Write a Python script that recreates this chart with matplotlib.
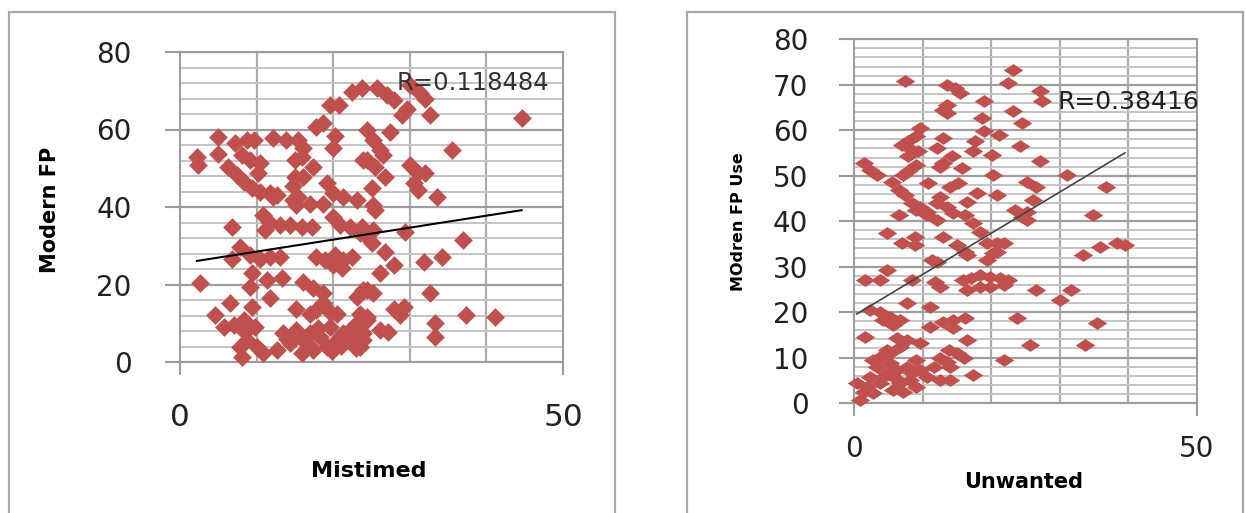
import matplotlib
matplotlib.use("Agg")
import matplotlib.pyplot as plt
from matplotlib.patches import Rectangle
import numpy as np

# ---- left chart: Mistimed vs Modern FP
mist_x = [2.2, 2.4, 5.0, 5.0, 7.2, 8.7, 9.6, 8.05, 9.1,
          6.3, 7.4, 8.3, 9.4, 10.4, 11.7, 12.6, 10.2, 10.4,
          12.2, 13.9, 15.4, 16.1, 15.9, 15.0, 17.4, 15.0, 16.1,
          17.8, 18.7, 19.6, 20.7, 22.4, 23.7, 20.2, 20.0, 23.9,
          19.2, 20.0, 21.3, 14.8, 15.4, 17.0, 18.7, 23.1, 12.2, 14.8,
          10.9, 11.7, 13.1, 14.4, 15.9, 17.2, 11.1, 15.2,
          20.0, 20.9, 22.2, 23.7, 6.75,
          7.8, 9.1, 10.4, 11.7, 13.1, 6.75,
          17.8, 18.9, 20.2, 21.3, 22.4, 20.0, 21.1,
          2.6, 9.4, 9.1, 11.3, 13.3, 11.7, 9.4,
          16.1, 17.4, 18.7, 6.5, 4.6, 5.7, 7.0,
          15.2, 17.0, 17.8, 18.7, 19.6, 20.5, 23.1, 24.4,
          8.3, 9.8, 8.5, 8.7, 7.8, 8.05, 10.0, 10.9,
          13.5, 15.2, 16.1, 17.0, 18.3, 19.2, 20.5, 21.3, 22.6, 23.9,
          14.4, 15.9, 12.6, 17.4, 19.6, 23.1, 24.4,
          14.0, 16.8, 18.0, 19.8, 21.0, 22.0, 23.0,
          25.7, 27.0, 27.9, 30.0, 31.3, 32.0, 29.6, 29.0, 32.6,
          44.6, 27.4, 24.4, 25.2, 26.1, 26.5, 24.4, 25.5, 26.8, 25.0,
          35.5, 30.0, 31.1, 32.0, 30.5, 31.1, 33.5, 25.2,
          25.5, 23.5, 24.4, 25.2, 25.0, 29.4, 37.0,
          26.8, 27.9, 26.1, 31.8, 34.2, 23.9, 25.2, 32.6,
          27.9, 29.2, 28.7, 23.5, 24.4, 26.1, 27.2, 23.9, 23.5,
          33.3, 33.3, 37.4, 41.1]
mist_y = [53.0, 50.8, 58.1, 53.8, 56.4, 57.3, 57.3, 53.4, 52.1,
          50.4, 48.3, 46.5, 44.8, 43.9, 43.5, 43.1, 48.7, 51.3,
          57.7, 57.3, 57.3, 55.1, 53.0, 52.1, 50.4, 47.8, 47.8,
          60.7, 61.6, 66.3, 66.3, 69.8, 70.6, 58.2, 55.1, 52.1,
          46.1, 43.5, 42.7, 45.3, 42.7, 40.9, 40.9, 41.8, 42.7, 41.8,
          37.9, 35.8, 35.4, 35.4, 34.9, 34.9, 34.1, 40.5,
          37.5, 35.4, 34.9, 34.9, 34.9,
          29.8, 27.6, 26.7, 27.2, 27.2, 26.7,
          27.2, 26.3, 27.6, 26.3, 27.2, 25.0, 24.2,
          20.3, 22.9, 19.4, 21.2, 21.6, 16.4, 14.3,
          20.7, 19.0, 17.7, 15.1, 12.1, 9.1, 9.5,
          13.8, 12.5, 13.4, 15.1, 13.0, 12.5, 16.9, 18.6,
          10.8, 9.1, 7.8, 5.7, 4.0, 1.4, 4.0, 2.2,
          7.4, 8.3, 5.7, 7.4, 6.5, 4.0, 5.7, 7.4, 5.7, 7.4,
          4.8, 2.2, 3.1, 3.1, 9.1, 10.0, 11.7,
          6.0, 4.5, 8.8, 2.8, 4.2, 8.0, 3.5,
          70.6, 68.9, 67.6, 71.5, 69.3, 68.0, 65.4, 63.7, 63.7,
          62.9, 59.4, 59.9, 57.3, 54.7, 53.4, 52.1, 50.4, 47.8, 44.8,
          54.7, 50.8, 48.7, 48.7, 46.1, 44.4, 42.7, 40.5,
          39.2, 33.2, 32.3, 34.1, 30.6, 33.6, 31.5,
          28.5, 25.0, 22.9, 25.9, 27.2, 18.6, 17.7, 17.7,
          13.8, 14.3, 12.1, 12.5, 10.8, 8.3, 7.8, 5.7, 4.0,
          10.0, 6.5, 12.1, 11.7]
mist_fit = [0.309, 25.4]   # slope, intercept of the drawn trend line
mist_r = "R=0.118484"

# ---- right chart: Unwanted vs MOdren FP Use
unw_x = [7.4, 13.5, 14.7, 15.5, 23.2, 22.5, 18.9,
         13.5, 13.5, 13.0, 18.6, 23.2, 24.5,
         9.6, 9.1, 7.9, 7.0, 8.4, 9.4, 7.9, 9.1, 7.9, 7.2,
         1.4, 2.3, 3.3, 13.0, 12.1, 14.3, 13.0, 12.5, 15.7,
         17.6, 17.4, 18.9, 21.1, 20.1, 24.2, 20.3,
         5.5, 6.5, 7.4, 8.4, 9.6, 10.6, 10.8,
         14.0, 12.5, 12.1, 13.5, 14.5, 16.4, 17.9, 20.8, 23.5, 25.2, 6.5, 15.2,
         9.1, 10.6, 12.1, 16.2, 17.4, 18.4, 24.5,
         4.8, 7.0, 8.9, 8.9, 13.0, 15.0, 16.2, 16.4,
         19.4, 20.8, 21.8, 20.3, 19.4, 20.8,
         11.3, 12.1, 4.8, 3.8, 1.6, 8.4, 11.8, 12.5,
         15.9, 17.1, 18.4, 19.8, 21.3, 22.5, 16.4, 18.4, 19.8, 21.8,
         7.7, 11.1, 2.3, 3.8, 5.2, 6.7, 5.7, 4.3,
         11.1, 13.0, 14.5, 16.2, 14.5, 23.7,
         1.6, 6.2, 7.7, 9.6, 6.7, 4.8, 16.4,
         12.5, 13.5, 15.0, 16.0, 14.0, 21.8, 17.4,
         3.8, 5.2, 3.3, 4.8, 6.2, 7.7, 9.1, 9.6, 8.2, 6.7, 5.7, 3.8, 2.3,
         0.4, 1.4, 0.9, 2.8, 4.3, 7.2, 9.1, 10.6, 11.6, 12.5, 14.0,
         5.2, 2.8, 6.0, 8.4, 1.9, 13.9,
         27.1, 27.4, 27.1, 31.0, 36.8, 26.6, 26.1, 34.9, 25.2,
         25.2, 35.9, 38.3, 39.5, 33.4, 26.6, 31.7, 30.0, 35.4, 25.7, 33.7]
unw_y = [70.8, 70.0, 69.3, 68.2, 73.3, 70.4, 66.4,
         65.6, 63.8, 64.5, 62.7, 64.2, 61.6,
         60.5, 58.7, 57.6, 56.8, 55.7, 55.4, 54.3, 52.4, 51.0, 50.2,
         52.8, 51.3, 50.2, 58.3, 56.1, 54.3, 52.8, 52.0, 51.7,
         57.6, 55.4, 59.8, 59.0, 54.6, 56.5, 50.2,
         48.7, 46.9, 45.8, 44.0, 43.2, 42.1, 48.4,
         47.6, 45.4, 44.0, 43.2, 41.8, 44.3, 46.2, 45.8, 42.5, 48.7, 41.4, 48.4,
         42.5, 41.4, 40.3, 41.4, 39.6, 37.7, 41.0,
         37.4, 35.2, 36.6, 34.8, 36.6, 34.8, 33.3, 32.6,
         35.2, 35.2, 35.2, 33.0, 31.5, 33.3,
         31.5, 31.1, 29.3, 27.1, 27.1, 27.1, 26.7, 25.6,
         27.1, 27.5, 28.2, 27.8, 27.5, 27.1, 24.9, 25.6, 25.6, 26.0,
         22.0, 21.2, 20.5, 20.1, 19.0, 18.3, 17.2, 18.3,
         16.8, 17.9, 18.3, 18.6, 16.5, 18.6,
         14.6, 14.2, 13.9, 13.1, 12.4, 11.7, 13.9,
         9.8, 9.1, 10.9, 9.8, 8.0, 9.5, 6.2,
         10.2, 8.7, 8.0, 6.5, 7.3, 8.0, 9.5, 7.3, 5.1, 4.3, 2.9, 4.3, 5.8,
         4.3, 2.5, 0.7, 2.1, 5.8, 2.5, 3.6, 5.8, 8.0, 5.1, 5.1,
         10.9, 9.5, 5.4, 6.5, 3.6, 11.7,
         68.6, 66.4, 53.2, 50.2, 47.6, 47.6, 44.7, 41.4, 42.1,
         40.3, 34.4, 35.2, 34.8, 32.6, 24.9, 24.9, 22.7, 17.6, 12.8, 12.8]
unw_fit = [0.907, 19.2]
unw_r = "R=0.38416"

W, H = 1246, 513
RED = "#c0504d"
AXGRAY = "#9c9c9c"

fig = plt.figure(figsize=(W / 100, H / 100), dpi=100)


def px_box(x0, y0, x1, y1):
    # pixel box, origin top-left -> [left, bottom, width, height] in figure fraction
    return [x0 / W, 1 - y1 / H, (x1 - x0) / W, (y1 - y0) / H]


# chart borders (bottom edge runs off the picture)
for x0, x1 in [(9, 615), (687, 1243)]:
    fig.add_artist(Rectangle((x0 / W, -0.1), (x1 - x0) / W, 1.1 - 12.5 / H,
                             transform=fig.transFigure, fill=False,
                             ec="#a8a8a8", lw=1.6))


def setup(ax, ystep, yminor, ysize, xsize, ypad, xpad, ylen, xlen):
    ax.set_xlim(0, 50)
    ax.set_ylim(0, 80)
    ax.set_xticks([0, 50])
    ax.set_xticks(np.arange(10, 50, 10), minor=True)
    ax.set_yticks(np.arange(0, 81, ystep))
    ax.set_yticks(np.arange(0, 81, yminor), minor=True)
    ax.grid(which="minor", axis="y", color="#c4c4c4", lw=1.4)
    ax.grid(which="major", axis="y", color="#9e9e9e", lw=1.6)
    ax.grid(which="minor", axis="x", color="#acacac", lw=1.6)
    ax.set_axisbelow(True)
    ax.tick_params(which="minor", length=0)
    ax.tick_params(which="major", direction="out", color=AXGRAY, width=1.5,
                   labelcolor="#222222")
    ax.tick_params(axis="y", length=ylen, pad=ypad, labelsize=ysize)
    ax.tick_params(axis="x", length=xlen, pad=xpad, labelsize=xsize)
    for sp in ax.spines.values():
        sp.set_color(AXGRAY)
        sp.set_linewidth(1.5)


# left
ax1 = fig.add_axes(px_box(180, 52, 563, 362))
setup(ax1, 20, 4, 20, 22.5, 24, 20, 10.8, 9.5)
ax1.plot(mist_x, mist_y, ls="none", marker=[(-1, 0), (0, 1), (1, 0), (0, -1), (-1, 0)],
         ms=13.5, mfc=RED, mec="none", clip_on=False, zorder=3)
xs = np.array([min(mist_x), max(mist_x)])
ax1.plot(xs, mist_fit[0] * xs + mist_fit[1], color="black", lw=1.5, zorder=4)
ax1.text(28.3, 72, mist_r, fontsize=17.5, color="#333333", va="center", ha="left", zorder=5)
fig.text(50 / W, 1 - 210 / H, "Modern FP", rotation=90, fontsize=15,
         fontweight="bold", ha="center", va="center")
fig.text(369 / W, 1 - 471 / H, "Mistimed", fontsize=16, fontweight="bold",
         ha="center", va="center")

# right
ax2 = fig.add_axes(px_box(854, 39.3, 1197, 403))
setup(ax2, 10, 2, 20, 20, 22, 14, 10.8, 9)
ax2.plot(unw_x, unw_y, ls="none", marker=[(-1, 0), (0, 0.66), (1, 0), (0, -0.66), (-1, 0)],
         ms=14, mfc=RED, mec="none", clip_on=False, zorder=3)
xs = np.array([min(unw_x), max(unw_x)])
ax2.plot(xs, unw_fit[0] * xs + unw_fit[1], color="#444444", lw=1.2, zorder=4)
ax2.text(29.6, 66.1, unw_r, fontsize=18, color="#222222", va="center", ha="left", zorder=5)
fig.text(738.5 / W, 1 - 222 / H, "MOdren FP Use", rotation=90, fontsize=11.5,
         fontweight="bold", ha="center", va="center")
fig.text(1024 / W, 1 - 482 / H, "Unwanted", fontsize=15, fontweight="bold",
         ha="center", va="center")

fig.savefig("out.png", dpi=100)
